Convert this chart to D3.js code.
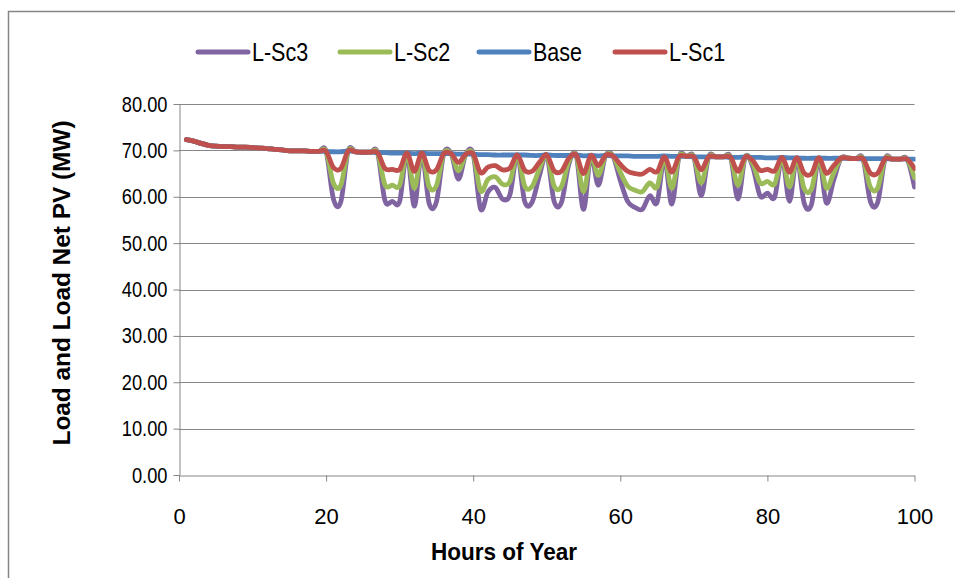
<!DOCTYPE html>
<html>
<head>
<meta charset="utf-8">
<script src="https://cdn.jsdelivr.net/npm/d3@7"></script>
<style>
  html, body { margin: 0; padding: 0; background: #ffffff; }
  svg { display: block; }
  text { font-family: "Liberation Sans", Arial, sans-serif; fill: #000; }
</style>
</head>
<body>
<svg id="chart" width="955" height="578"></svg>
<script>
// Hour of year, 1..100
const hours = d3.range(1, 101);

// Load (MW) without PV
const base = [
  72.3, 72.0, 71.5, 71.1, 70.9, 70.8, 70.8, 70.7, 70.7, 70.6,
  70.5, 70.4, 70.2, 70.1, 69.9, 69.9, 69.9, 69.8, 69.8, 69.8,
  69.7, 69.7, 69.9, 69.7, 69.6, 69.6, 69.5, 69.5, 69.4, 69.4,
  69.4, 69.3, 69.4, 69.3, 69.3, 69.3, 69.3, 69.2, 69.2, 69.2,
  69.1, 69.1, 69.0, 69.0, 69.0, 69.0, 69.0, 68.9, 68.9, 69.0,
  68.9, 68.9, 68.9, 69.0, 68.8, 68.9, 68.8, 68.9, 68.8, 68.8,
  68.8, 68.7, 68.7, 68.7, 68.7, 68.8, 68.7, 68.7, 68.7, 68.6,
  68.6, 68.6, 68.6, 68.6, 68.5, 68.5, 68.6, 68.5, 68.5, 68.4,
  68.4, 68.5, 68.4, 68.4, 68.3, 68.3, 68.4, 68.3, 68.3, 68.3,
  68.3, 68.2, 68.2, 68.2, 68.2, 68.2, 68.1, 68.1, 68.1, 68.1
];

// Load net PV, scenario 1
const lSc1 = [
  72.3, 72.0, 71.5, 71.1, 70.9, 70.8, 70.8, 70.7, 70.7, 70.6,
  70.5, 70.4, 70.2, 70.1, 69.9, 69.9, 69.9, 69.8, 69.8, 69.8,
  66.3, 66.1, 69.9, 69.7, 69.6, 69.6, 69.5, 66.1, 65.9, 65.9,
  69.4, 65.5, 69.4, 65.7, 65.8, 69.3, 69.3, 67.4, 69.2, 69.2,
  65.2, 66.4, 66.7, 65.8, 66.2, 69.0, 65.7, 65.5, 67.4, 69.0,
  65.6, 65.5, 68.3, 69.0, 65.0, 68.9, 66.7, 68.9, 68.8, 67.0,
  65.5, 65.0, 64.9, 65.9, 65.4, 68.6, 65.3, 68.7, 68.7, 68.6,
  65.8, 68.6, 68.6, 68.6, 68.5, 65.5, 68.6, 67.8, 65.7, 65.9,
  65.6, 68.5, 65.3, 68.4, 65.1, 65.0, 68.4, 65.1, 66.7, 68.3,
  68.3, 68.2, 68.2, 65.1, 65.1, 68.2, 68.1, 68.1, 68.1, 66.1
];

// Load net PV, scenario 2
const lSc2 = [
  72.3, 72.0, 71.5, 71.1, 70.9, 70.8, 70.8, 70.7, 70.7, 70.6,
  70.5, 70.4, 70.2, 70.1, 69.9, 69.9, 69.9, 69.8, 69.8, 69.8,
  62.9, 62.5, 69.9, 69.7, 69.6, 69.6, 69.5, 62.6, 62.5, 62.5,
  69.4, 61.8, 69.4, 62.2, 62.4, 69.3, 69.3, 65.6, 69.2, 69.2,
  61.3, 63.7, 64.3, 62.7, 63.3, 69.0, 62.3, 62.2, 66.0, 69.0,
  62.3, 62.2, 67.6, 69.0, 61.1, 68.9, 64.6, 68.9, 68.8, 65.3,
  62.3, 61.4, 61.1, 63.0, 62.1, 68.5, 61.8, 68.7, 68.7, 68.6,
  63.0, 68.6, 68.6, 68.6, 68.5, 62.5, 68.6, 67.2, 63.0, 63.3,
  62.8, 68.5, 62.1, 68.4, 61.8, 61.7, 68.4, 61.9, 65.1, 68.3,
  68.3, 68.2, 68.2, 62.1, 61.9, 68.2, 68.1, 68.1, 68.1, 64.1
];

// Load net PV, scenario 3
const lSc3 = [
  72.3, 72.0, 71.5, 71.1, 70.9, 70.8, 70.8, 70.7, 70.7, 70.6,
  70.5, 70.4, 70.2, 70.1, 69.9, 69.9, 69.9, 69.8, 69.8, 69.8,
  59.5, 58.9, 69.9, 69.7, 69.6, 69.6, 69.5, 59.2, 59.0, 59.0,
  69.4, 58.0, 69.4, 58.6, 58.9, 69.3, 69.3, 63.8, 69.2, 69.2,
  57.4, 61.0, 62.0, 59.5, 60.5, 69.0, 59.0, 58.8, 64.5, 69.0,
  59.0, 58.8, 67.0, 69.0, 57.3, 68.9, 62.5, 68.9, 68.8, 63.5,
  59.0, 57.7, 57.3, 60.2, 58.8, 68.3, 58.4, 68.7, 68.7, 68.6,
  60.2, 68.6, 68.6, 68.6, 68.5, 59.5, 68.6, 66.5, 60.2, 60.8,
  60.0, 68.5, 59.0, 68.4, 58.6, 58.4, 68.4, 58.7, 63.5, 68.3,
  68.3, 68.2, 68.2, 59.0, 58.8, 68.2, 68.1, 68.1, 68.1, 62.1
];

const xTicks = [0, 20, 40, 60, 80, 100];
const yTicks = [0, 10, 20, 30, 40, 50, 60, 70, 80];

// Drawing order follows the legend; L-Sc1 ends up on top
const series = [
  { name: "L-Sc3", values: lSc3, color: "#8064A2" },
  { name: "L-Sc2", values: lSc2, color: "#9BBB59" },
  { name: "Base",  values: base, color: "#4F81BD" },
  { name: "L-Sc1", values: lSc1, color: "#C0504D" }
];

const svg = d3.select("#chart");
const plot = { left: 179, right: 914.5, top: 104, bottom: 475 };
const axisColor = "#868686";

// narrow the set-width sans to the chart's condensed look
function squeeze(sel, factor) {
  sel.each(function () {
    const w = this.getComputedTextLength();
    d3.select(this).attr("textLength", w * factor).attr("lengthAdjust", "spacingAndGlyphs");
  });
}

// chart frame
svg.append("rect")
  .attr("x", 8.5).attr("y", 11.5)
  .attr("width", 980).attr("height", 620)
  .attr("fill", "#fff")
  .attr("stroke", axisColor).attr("stroke-width", 1.5);

const x = d3.scaleLinear().domain([0, 100]).range([plot.left, plot.right]);
const y = d3.scaleLinear().domain([0, 80]).range([plot.bottom, plot.top]);

// horizontal gridlines
svg.append("g")
  .selectAll("line")
  .data(yTicks.filter(d => d > 0))
  .join("line")
  .attr("x1", plot.left).attr("x2", plot.right)
  .attr("y1", d => Math.round(y(d)) + 0.5).attr("y2", d => Math.round(y(d)) + 0.5)
  .attr("stroke", axisColor).attr("stroke-width", 1);

// y axis
const yAxis = svg.append("g")
  .attr("transform", `translate(${plot.left + 0.5},0)`)
  .call(d3.axisLeft(y).tickValues(yTicks).tickFormat(d3.format(".2f"))
    .tickSize(6).tickSizeOuter(0).tickPadding(6));
yAxis.select(".domain").attr("stroke", axisColor);
yAxis.selectAll(".tick line").attr("stroke", axisColor);
yAxis.selectAll(".tick text")
  .attr("font-size", 22)
  .attr("font-family", "Liberation Sans, Arial, sans-serif")
  .attr("fill", "#000")
  .call(squeeze, 0.83);

// x axis
const xAxis = svg.append("g")
  .attr("transform", `translate(0,${plot.bottom + 0.5})`)
  .call(d3.axisBottom(x).tickValues(xTicks).tickFormat(d3.format("d"))
    .tickSize(6).tickSizeOuter(0).tickPadding(27));
xAxis.select(".domain").attr("stroke", axisColor);
xAxis.selectAll(".tick line").attr("stroke", axisColor);
xAxis.selectAll(".tick text")
  .attr("font-size", 22)
  .attr("font-family", "Liberation Sans, Arial, sans-serif")
  .attr("fill", "#000");

// series lines, clipped to the plot area
svg.append("clipPath").attr("id", "plotClip")
  .append("rect")
  .attr("x", plot.left).attr("y", plot.top - 20)
  .attr("width", plot.right - plot.left + 1).attr("height", plot.bottom - plot.top + 20);

// smoothed lines (uniform Catmull-Rom)
const line = d3.line()
  .x((d, i) => x(hours[i]))
  .y(d => y(d))
  .curve(d3.curveCardinal.tension(0));

svg.append("g").attr("clip-path", "url(#plotClip)")
  .selectAll("path")
  .data(series)
  .join("path")
  .attr("d", s => line(s.values))
  .attr("fill", "none")
  .attr("stroke", s => s.color)
  .attr("stroke-width", 4.8)
  .attr("stroke-linejoin", "round")
  .attr("stroke-linecap", "round");

// legend
const legendItems = [
  { name: "L-Sc3", color: "#8064A2", x: 198 },
  { name: "L-Sc2", color: "#9BBB59", x: 340 },
  { name: "Base",  color: "#4F81BD", x: 479 },
  { name: "L-Sc1", color: "#C0504D", x: 615 }
];
const lg = svg.append("g").attr("transform", "translate(0,52)");
const li = lg.selectAll("g").data(legendItems).join("g")
  .attr("transform", d => `translate(${d.x},0)`);
li.append("line")
  .attr("x1", 0).attr("x2", 50).attr("y1", 0).attr("y2", 0)
  .attr("stroke", d => d.color).attr("stroke-width", 5)
  .attr("stroke-linecap", "round");
li.append("text")
  .attr("x", 54).attr("y", 9)
  .attr("font-size", 25)
  .text(d => d.name)
  .call(squeeze, 0.86);

// axis titles
svg.append("text")
  .attr("x", 504).attr("y", 560)
  .attr("text-anchor", "middle")
  .attr("font-size", 24).attr("font-weight", "bold")
  .attr("textLength", 146).attr("lengthAdjust", "spacingAndGlyphs")
  .text("Hours of Year");

svg.append("text")
  .attr("transform", "translate(70,283) rotate(-90)")
  .attr("text-anchor", "middle")
  .attr("font-size", 24).attr("font-weight", "bold")
  .attr("textLength", 325).attr("lengthAdjust", "spacingAndGlyphs")
  .text("Load and Load Net PV (MW)");
</script>
</body>
</html>
